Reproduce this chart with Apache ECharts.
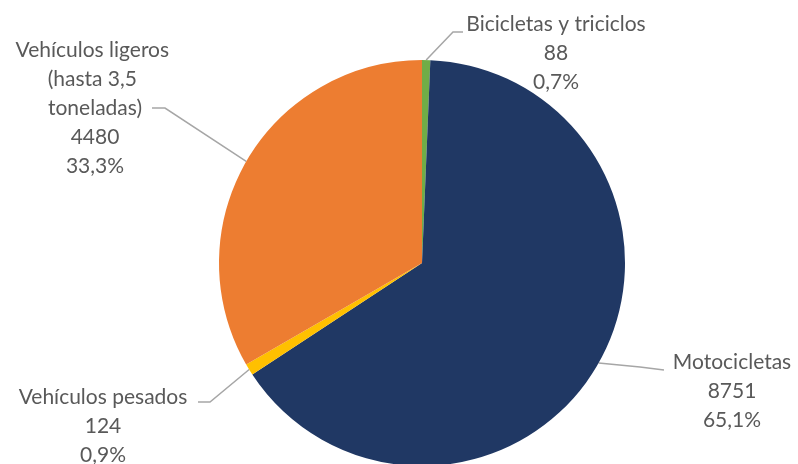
<!DOCTYPE html>
<html>
<head>
<meta charset="utf-8">
<script src="https://cdn.jsdelivr.net/npm/echarts@6/dist/echarts.min.js"></script>
<style>
  html, body { margin: 0; padding: 0; background: #ffffff; }
  #chart { width: 798px; height: 464px; }
</style>
</head>
<body>
<div id="chart"></div>
<script>
// Vehicle types and counts
const categories = [
  'Bicicletas y triciclos',
  'Motocicletas',
  'Vehículos pesados',
  'Vehículos ligeros (hasta 3,5 toneladas)'
];
const counts = [88, 8751, 124, 4480];
const colors = ['#70AD47', '#203864', '#FFC000', '#ED7D31'];

const total = counts.reduce((a, b) => a + b, 0);

// Label anchor (centre x, top y) and leader-line bend/end for each slice
const labelSpots = [
  { x: 556, y: 10, bend: [453, 32], end: [463, 32] },
  { x: 732, y: 348, bend: [640, 367], end: [664, 370] },
  { x: 103, y: 383, bend: [210, 402], end: [198, 402] },
  { x: 95, y: 36, bend: [165, 108], end: [152, 108] }
];

const center = [422, 263];
const radius = 203;

// Point on the rim at the middle of slice i (start at 12 o'clock, clockwise)
function rimPoint(i) {
  let before = 0;
  for (let k = 0; k < i; k++) before += counts[k];
  const mid = (before + counts[i] / 2) / total * 2 * Math.PI;
  const ang = Math.PI / 2 - mid;
  return [center[0] + radius * Math.cos(ang), center[1] - radius * Math.sin(ang)];
}

const chart = echarts.init(document.getElementById('chart'));
chart.setOption({
  animation: false,
  backgroundColor: '#ffffff',
  series: [{
    type: 'pie',
    center: center,
    radius: radius,
    startAngle: 90,
    clockwise: true,
    avoidLabelOverlap: false,
    itemStyle: { borderWidth: 0 },
    label: {
      show: true,
      position: 'outside',
      fontFamily: 'Lato',
      fontSize: 21,
      lineHeight: 29,
      color: '#595959',
      align: 'center',
      formatter: function (p) {
        const pct = (p.value / total * 100).toFixed(1).replace('.', ',');
        return p.name + '\n' + p.value + '\n' + pct + '%';
      }
    },
    labelLine: {
      show: true,
      lineStyle: { color: '#A6A6A6', width: 1.5 }
    },
    labelLayout: function (params) {
      const i = params.dataIndex;
      const s = labelSpots[i];
      const rim = rimPoint(i);
      return {
        x: s.x,
        y: s.y,
        align: 'center',
        verticalAlign: 'top',
        labelLinePoints: [rim, s.bend, s.end]
      };
    },
    data: categories.map((name, i) => ({
      name: name,
      value: counts[i],
      itemStyle: { color: colors[i] },
      label: i === 3 ? { width: 185, overflow: 'break' } : {}
    }))
  }]
});
</script>
</body>
</html>
